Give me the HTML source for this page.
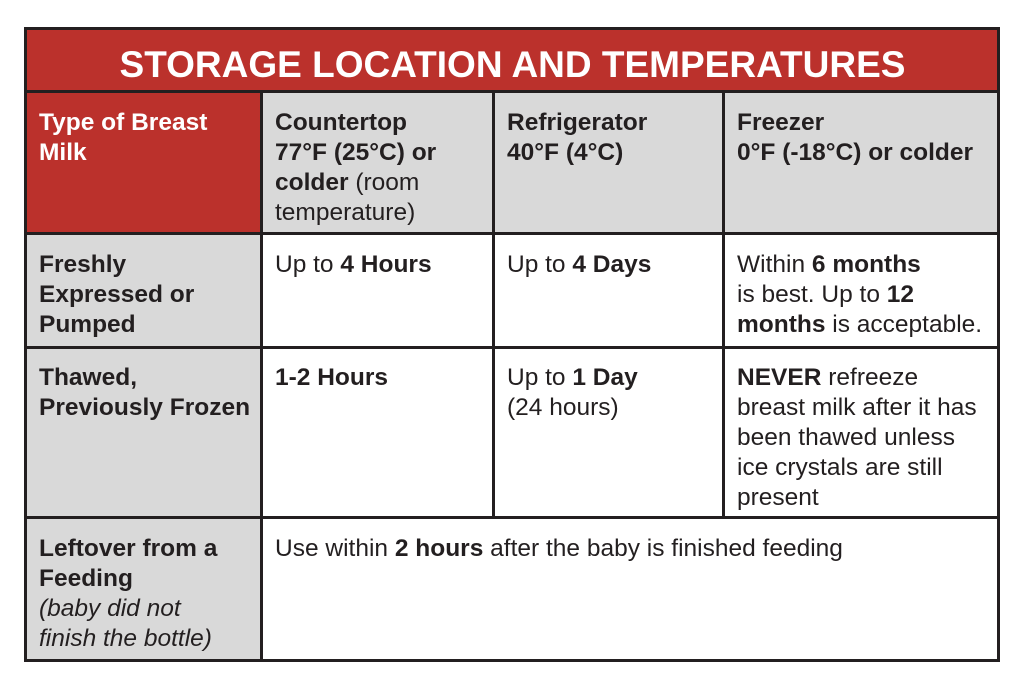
<!DOCTYPE html>
<html><head><meta charset="utf-8"><style>
body{margin:0;width:1024px;height:682px;background:#fff;position:relative;overflow:hidden;font-family:"Liberation Sans",sans-serif;color:#231f20}
.c{position:absolute;box-sizing:border-box;padding:16px 4px 0 13px;font-size:24.5px;line-height:30px;white-space:nowrap}
.l{position:absolute;background:#231f20}
.red{background:#bb312c;color:#fff}
.g{background:#d9d9d9}
b{font-weight:bold}
</style></head><body>
<div class="c red" style="left:26px;top:29px;width:973px;height:62px;padding:0;text-align:center;font-size:37px;font-weight:bold;line-height:72px">STORAGE LOCATION AND TEMPERATURES</div>
<div class="c red" style="left:26px;top:92px;width:235px;height:141px"><b>Type of Breast<br>Milk</b></div>
<div class="c g" style="left:262px;top:92px;width:232px;height:141px"><b>Countertop<br>77°F (25°C) or<br>colder</b> (room<br>temperature)</div>
<div class="c g" style="left:494px;top:92px;width:230px;height:141px"><b>Refrigerator<br>40°F (4°C)</b></div>
<div class="c g" style="left:724px;top:92px;width:275px;height:141px"><b>Freezer<br>0°F (-18°C) or colder</b></div>

<div class="c g" style="left:26px;top:234px;width:235px;height:113px"><b>Freshly<br>Expressed or<br>Pumped</b></div>
<div class="c" style="left:262px;top:234px;width:232px">Up to <b>4 Hours</b></div>
<div class="c" style="left:494px;top:234px;width:230px">Up to <b>4 Days</b></div>
<div class="c" style="left:724px;top:234px;width:275px">Within <b>6 months</b><br>is best. Up to <b>12<br>months</b> is acceptable.</div>

<div class="c g" style="left:26px;top:347px;width:235px;height:171px"><b>Thawed,<br>Previously Frozen</b></div>
<div class="c" style="left:262px;top:347px;width:232px"><b>1-2 Hours</b></div>
<div class="c" style="left:494px;top:347px;width:230px">Up to <b>1 Day</b><br>(24 hours)</div>
<div class="c" style="left:724px;top:347px;width:275px"><b>NEVER</b> refreeze<br>breast milk after it has<br>been thawed unless<br>ice crystals are still<br>present</div>

<div class="c g" style="left:26px;top:518px;width:235px;height:143px"><b>Leftover from a<br>Feeding</b><br><i>(baby did not<br>finish the bottle)</i></div>
<div class="c" style="left:262px;top:518px;width:737px">Use within <b>2 hours</b> after the baby is finished feeding</div>

<div class="l" style="left:24px;top:27px;width:976px;height:3px"></div>
<div class="l" style="left:24px;top:659px;width:976px;height:3px"></div>
<div class="l" style="left:24px;top:27px;width:3px;height:635px"></div>
<div class="l" style="left:997px;top:27px;width:3px;height:635px"></div>
<div class="l" style="left:24px;top:90px;width:976px;height:3px"></div>
<div class="l" style="left:24px;top:232px;width:976px;height:3px"></div>
<div class="l" style="left:24px;top:346px;width:976px;height:3px"></div>
<div class="l" style="left:24px;top:516px;width:976px;height:3px"></div>
<div class="l" style="left:260px;top:90px;width:3px;height:572px"></div>
<div class="l" style="left:492px;top:90px;width:3px;height:428px"></div>
<div class="l" style="left:722px;top:90px;width:3px;height:428px"></div>
</body></html>
